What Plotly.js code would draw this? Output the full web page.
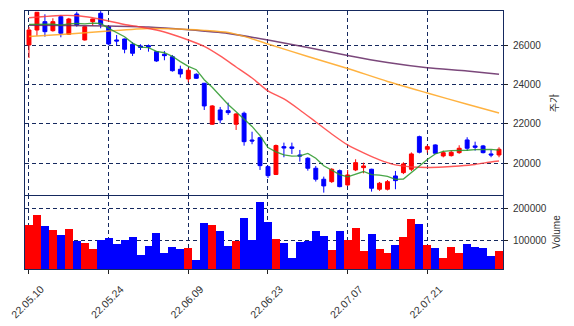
<!DOCTYPE html>
<html>
<head>
<meta charset="utf-8">
<script src="https://cdn.plot.ly/plotly-3.0.1.min.js"></script>
<style>
html,body{margin:0;padding:0;background:#ffffff;}
#chart{width:574px;height:326px;}
</style>
</head>
<body>
<div id="chart"></div>
<script>
// ---- data ----
const dates = [
 '22.05.10','22.05.11','22.05.12','22.05.13','22.05.16','22.05.17','22.05.18','22.05.19','22.05.20','22.05.23',
 '22.05.24','22.05.25','22.05.26','22.05.27','22.05.30','22.05.31','22.06.02','22.06.03','22.06.07','22.06.08',
 '22.06.09','22.06.10','22.06.13','22.06.14','22.06.15','22.06.16','22.06.17','22.06.20','22.06.21','22.06.22',
 '22.06.23','22.06.24','22.06.27','22.06.28','22.06.29','22.06.30','22.07.01','22.07.04','22.07.05','22.07.06',
 '22.07.07','22.07.08','22.07.11','22.07.12','22.07.13','22.07.14','22.07.15','22.07.18','22.07.19','22.07.20',
 '22.07.21','22.07.22','22.07.25','22.07.26','22.07.27','22.07.28','22.07.29','22.08.01','22.08.02','22.08.03'
];
const openP = [
 26005,26766,27188,26730,27442,26548,27578,26259,27188,27614,
 26934,26259,26310,26040,25954,25970,25665,25533,25411,24771,
 24279,24517,24061,21980,22705,22670,21980,22538,21180,21300,
 19827,19430,20843,20830,20420,20254,19746,19188,19066,19624,
 18898,19660,19777,19695,18680,18680,19355,19523,19695,21350,
 20710,20929,20370,20386,20538,21183,20880,20880,20472,20420
];
const highP = [
 26919,27680,27563,27360,27528,27380,27695,26960,27340,27725,
 26960,26513,26330,26142,26040,26030,25700,25700,25497,24954,
 24822,24568,24076,22950,22858,23076,22550,22620,21600,21340,
 19880,20950,21046,21046,20675,20305,19863,19320,19750,19680,
 19660,20203,20030,19720,19050,19150,19609,20050,20550,21400,
 20929,20960,20640,20640,20912,21320,21096,20929,20675,20812
];
const lowP = [
 25345,26477,26426,26680,26396,26513,26934,26230,26985,26853,
 25990,25970,25584,25447,25751,25665,25150,25228,24650,24345,
 24111,24280,22705,21950,22030,22452,21690,20893,20965,19660,
 19250,19400,20305,20472,20081,19624,19071,18508,19000,18780,
 18848,19600,19490,18560,18600,18620,18680,19450,19600,20500,
 20540,20480,20300,20340,20480,20640,20640,20500,20305,20305
];
const closeP = [
 26766,27665,26680,27188,26599,27325,27020,26934,27325,27055,
 26055,26208,25787,25584,25878,25900,25193,25462,24700,24533,
 24720,24314,22909,22909,22198,22570,22502,21096,21130,19878,
 19370,20900,20775,20760,20370,19746,19188,18848,19695,18812,
 19406,20030,19863,18731,18985,19066,19117,19964,20472,20558,
 20843,20508,20538,20558,20761,20761,20812,20538,20420,20710
];
const volume = [
 148000,179000,145000,133000,118000,136000,100000,93000,74000,102000,
 108000,90000,102000,111000,56000,84000,124000,62000,80000,74000,
 77000,40000,155000,148000,130000,84000,99000,170000,102000,220000,
 158000,105000,94000,46000,97000,100000,130000,114000,71000,130000,
 102000,139000,68000,121000,74000,62000,87000,111000,167000,152000,
 87000,77000,46000,80000,62000,90000,80000,77000,53000,68000
];
// moving-average lines (values read at each day / at sampled days)
const ma5 = [
 27050,27045,27040,27060,27010,27080,27100,27080,27110,27100,
 26850,26650,26420,26100,25900,25870,25680,25610,25430,25160,
 24920,24750,24240,23860,23420,22980,22620,22230,21870,21400,
 20800,20580,20420,20360,20370,20500,20250,19870,19660,19420,
 19310,19450,19580,19420,19400,19330,19180,19200,19540,19840,
 20190,20470,20600,20640,20640,20660,20690,20700,20700,20670
];
const ma20Days = [0,2,4,6,8,10,12,14,16,18,20,22,24,26,28,30,32,34,36,38,40,42,44,46,48,50,52,54,56,58,59];
const ma20 = [27391,27451,27502,27492,27386,27223,27046,26919,26766,26538,26259,25929,25447,24888,24330,23670,23264,22706,22096,21487,20929,20523,20168,19914,19812,19787,19812,19863,19939,20066,20117];
const ma60Days = [0,5,10,15,20,22,25,27,30,35,40,45,50,55,59];
const ma60 = [26436,26563,26716,26842,26792,26745,26640,26440,26056,25421,24812,24152,23568,22995,22553];
const ma120Days = [0,5,10,15,20,25,30,35,40,45,50,55,59];
const ma120 = [27010,26995,26969,26919,26776,26589,26259,25880,25472,25117,24853,24685,24518];
const tickDates = ['22.05.10','22.05.24','22.06.09','22.06.23','22.07.07','22.07.21'];
const priceTicks = [20000,22000,24000,26000];
const volumeTicks = [100000,200000];

// ---- styling ----
const NAVY = '#15295e';
const UP = '#ff0000', DOWN = '#0000ff';
const volColors = closeP.map((c, i) => c >= openP[i] ? UP : DOWN);
const pick = (days) => days.map(d => dates[d]);

const traces = [
 {type:'candlestick', x:dates, open:openP, high:highP, low:lowP, close:closeP,
  xaxis:'x', yaxis:'y', whiskerwidth:0,
  increasing:{line:{color:UP, width:1}, fillcolor:UP},
  decreasing:{line:{color:DOWN, width:1}, fillcolor:DOWN},
  hoverinfo:'skip', showlegend:false},
 {type:'scatter', mode:'lines', x:pick(ma120Days), y:ma120, xaxis:'x', yaxis:'y',
  line:{color:'rgba(100,40,100,0.85)', width:1.5, shape:'spline', smoothing:0.6}, hoverinfo:'skip'},
 {type:'scatter', mode:'lines', x:pick(ma60Days), y:ma60, xaxis:'x', yaxis:'y',
  line:{color:'rgba(255,165,30,0.85)', width:1.4, shape:'spline', smoothing:0.6}, hoverinfo:'skip'},
 {type:'scatter', mode:'lines', x:pick(ma20Days), y:ma20, xaxis:'x', yaxis:'y',
  line:{color:'rgba(255,60,60,0.85)', width:1.4, shape:'spline', smoothing:0.6}, hoverinfo:'skip'},
 {type:'scatter', mode:'lines', x:dates, y:ma5, xaxis:'x', yaxis:'y',
  line:{color:'rgba(40,150,40,0.85)', width:1.3}, hoverinfo:'skip'},
 {type:'bar', x:dates, y:volume, xaxis:'x2', yaxis:'y2',
  marker:{color:volColors, line:{width:0}}, hoverinfo:'skip'}
];

const gridCommon = {showgrid:true, gridcolor:NAVY, gridwidth:1, griddash:'4px,3px',
  showline:true, mirror:true, linecolor:NAVY, linewidth:1, zeroline:false};

const layout = {
 width:574, height:326,
 margin:{l:25, r:71, t:11, b:57, pad:0},
 paper_bgcolor:'#ffffff', plot_bgcolor:'#ffffff',
 showlegend:false, bargap:0, boxgap:0.3,
 font:{family:'Liberation Sans, Arial, sans-serif', size:10, color:'#333333'},
 xaxis:Object.assign({}, gridCommon, {
   type:'category', anchor:'y', domain:[0,1], range:[-0.5,59.5],
   rangeslider:{visible:false}, tickvals:tickDates, showticklabels:false, ticks:''}),
 xaxis2:Object.assign({}, gridCommon, {
   type:'category', anchor:'y2', domain:[0,1], range:[-0.5,59.5], matches:'x',
   mirror:false,
   tickvals:tickDates, ticktext:tickDates, tickangle:-45,
   ticks:'outside', ticklen:4, tickcolor:'#222222', tickwidth:1,
   ticklabelshift:12, ticklabelstandoff:5,
   tickfont:{size:10.5, color:'#333333'}}),
 yaxis:Object.assign({}, gridCommon, {
   domain:[0.287,1], anchor:'x', side:'right', range:[18390,27730],
   tickvals:priceTicks, tickformat:'d', ticks:'outside', ticklen:4, tickcolor:'#222222',
   ticklabelstandoff:3,
   tickfont:{size:10, color:'#333333'},
   title:{text:'주가', standoff:10, font:{family:'Noto Sans CJK KR', size:10, color:'#333333'}}}),
 yaxis2:Object.assign({}, gridCommon, {
   domain:[0,0.287], anchor:'x2', side:'right', range:[11000,243000],
   tickvals:volumeTicks, tickformat:'d', ticks:'outside', ticklen:4, tickcolor:'#222222',
   ticklabelstandoff:3,
   tickfont:{size:10, color:'#333333'},
   title:{text:'Volume', standoff:7, font:{size:10, color:'#333333'}}})
};

Plotly.newPlot('chart', traces, layout, {staticPlot:true, displayModeBar:false});
</script>
</body>
</html>
